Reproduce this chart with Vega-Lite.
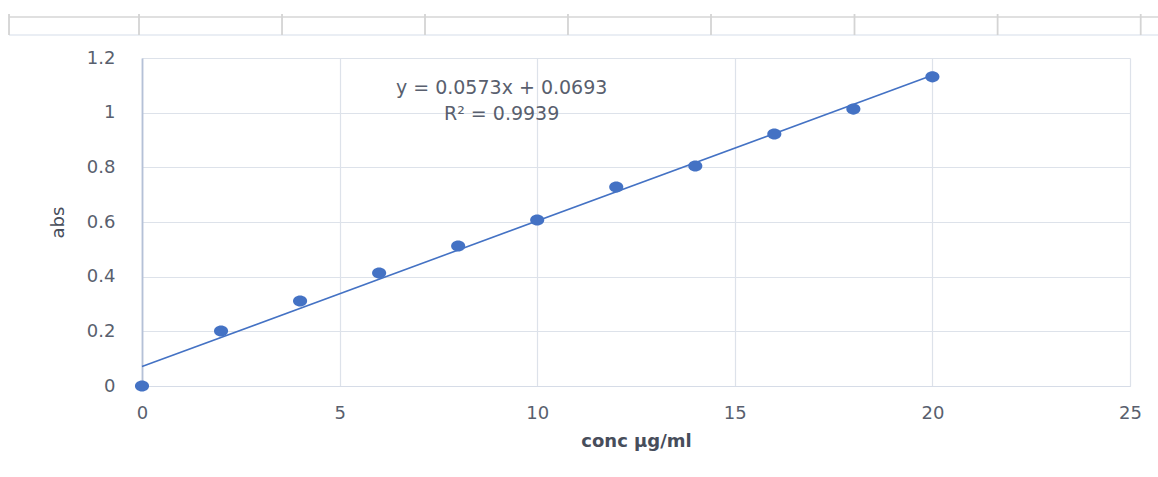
{
  "$schema": "https://vega.github.io/schema/vega-lite/v6.json",
  "width": 988,
  "height": 328,
  "autosize": {"type": "none"},
  "padding": {"left": 142, "top": 58, "right": 28, "bottom": 91},
  "background": "white",
  "config": {
    "view": {"stroke": null},
    "font": "DejaVu Sans",
    "axis": {
      "labelFont": "DejaVu Sans",
      "titleFont": "DejaVu Sans",
      "labelColor": "#595f6e",
      "titleColor": "#474d5b",
      "gridColor": "#dde2ea",
      "gridWidth": 1.2,
      "ticks": false,
      "labelFontSize": 18,
      "titleFontSize": 18
    }
  },
  "datasets": {
    "points": [
      {"conc": 0, "abs": 0.0},
      {"conc": 2, "abs": 0.201},
      {"conc": 4, "abs": 0.311},
      {"conc": 6, "abs": 0.413},
      {"conc": 8, "abs": 0.512},
      {"conc": 10, "abs": 0.607},
      {"conc": 12, "abs": 0.728},
      {"conc": 14, "abs": 0.805},
      {"conc": 16, "abs": 0.922},
      {"conc": 18, "abs": 1.013},
      {"conc": 20, "abs": 1.131}
    ],
    "trend": [
      {"conc": 0, "abs": 0.071},
      {"conc": 20, "abs": 1.137}
    ],
    "labels": [
      {"conc": 9.1, "abs": 1.09, "text": "y = 0.0573x + 0.0693"},
      {"conc": 9.1, "abs": 0.995, "text": "R² = 0.9939"}
    ],
    "stripV": [
      {"x": -3.365}, {"x": -0.076}, {"x": 3.543}, {"x": 7.161}, {"x": 10.779},
      {"x": 14.398}, {"x": 18.029}, {"x": 21.65}, {"x": 25.271}
    ],
    "stripH": [
      {"x": -3.365, "x2": 27, "y": 1.35, "kind": "top"},
      {"x": -3.365, "x2": 27, "y": 1.284, "kind": "bottom"}
    ]
  },
  "layer": [
    {
      "data": {"name": "trend"},
      "mark": {"type": "line", "color": "#4472c4", "strokeWidth": 1.6},
      "encoding": {
        "x": {
          "field": "conc", "type": "quantitative",
          "scale": {"domain": [0, 25], "nice": false},
          "axis": {
            "title": "conc µg/ml",
            "titleFontWeight": "bold",
            "titlePadding": 10,
            "values": [0, 5, 10, 15, 20, 25],
            "labelPadding": 18,
            "labelFlush": false,
            "domainColor": "#d6dce7",
            "domainWidth": 1.2,
            "grid": true
          }
        },
        "y": {
          "field": "abs", "type": "quantitative",
          "scale": {"domain": [0, 1.2], "nice": false, "zero": false},
          "axis": {
            "title": "abs",
            "titleFontWeight": "normal",
            "titlePadding": 19,
            "values": [0, 0.2, 0.4, 0.6, 0.8, 1, 1.2],
            "format": "~g",
            "labelPadding": 27,
            "domainColor": "#b5c1d7",
            "domainWidth": 1.8,
            "grid": true
          }
        }
      }
    },
    {
      "data": {"name": "stripH"},
      "mark": {"type": "rule", "strokeWidth": 1.5},
      "encoding": {
        "x": {"field": "x", "type": "quantitative"},
        "x2": {"field": "x2"},
        "y": {"field": "y", "type": "quantitative"},
        "color": {"field": "kind", "type": "nominal", "scale": {"domain": ["top", "bottom"], "range": ["#d6d6d6", "#e3e9f1"]}, "legend": null}
      }
    },
    {
      "data": {"name": "stripV"},
      "mark": {"type": "rule", "strokeWidth": 1.8, "color": "#d4d4d4"},
      "encoding": {
        "x": {"field": "x", "type": "quantitative"},
        "y": {"datum": 1.284, "type": "quantitative"},
        "y2": {"datum": 1.361}
      }
    },
    {
      "data": {"name": "points"},
      "mark": {"type": "point", "filled": true, "opacity": 1, "color": "#4472c4", "size": 200, "shape": "M-1,0A1,0.78 0 1,0 1,0A1,0.78 0 1,0 -1,0Z"},
      "encoding": {
        "x": {"field": "conc", "type": "quantitative"},
        "y": {"field": "abs", "type": "quantitative"}
      }
    },
    {
      "data": {"name": "labels"},
      "mark": {"type": "text", "fontSize": 19, "color": "#595f6e", "align": "center", "baseline": "middle"},
      "encoding": {
        "x": {"field": "conc", "type": "quantitative"},
        "y": {"field": "abs", "type": "quantitative"},
        "text": {"field": "text"}
      }
    }
  ]
}
